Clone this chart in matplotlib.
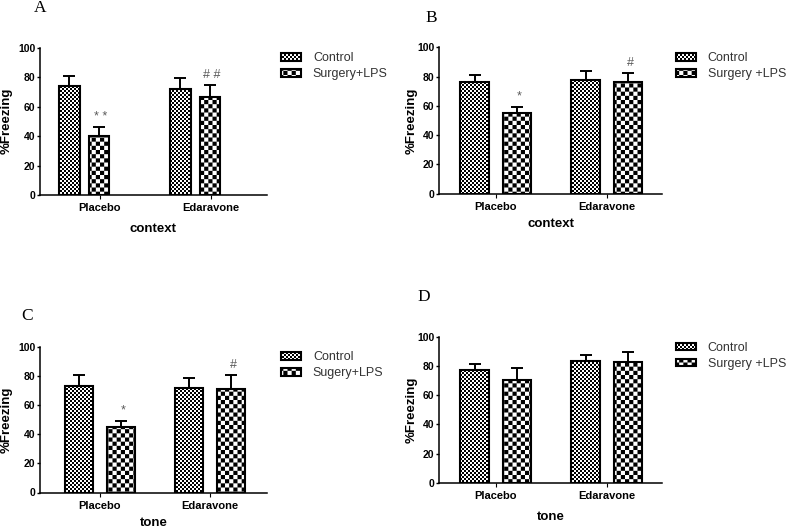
import matplotlib
matplotlib.use("Agg")
import matplotlib.pyplot as plt
import matplotlib.hatch as mhatch
from matplotlib.path import Path
import numpy as np

# ---------------- data ----------------
groups = ["Placebo", "Edaravone"]

A_control = [73.8, 72.2]
A_control_err = [7.0, 7.0]
A_surgery = [40.3, 66.6]
A_surgery_err = [5.6, 7.9]
A_marks = ["", "* *", "", "# #"]

B_control = [76.0, 77.6]
B_control_err = [5.3, 6.4]
B_surgery = [55.3, 76.3]
B_surgery_err = [4.1, 6.3]
B_marks = ["", "*", "", "#"]

C_control = [73.6, 72.2]
C_control_err = [7.3, 6.4]
C_surgery = [44.9, 71.3]
C_surgery_err = [4.6, 9.6]
C_marks = ["", "*", "", "#"]

D_control = [76.9, 83.1]
D_control_err = [4.6, 4.3]
D_surgery = [70.3, 82.4]
D_surgery_err = [8.0, 7.1]
D_marks = ["", "", "", ""]

yticks = [0, 20, 40, 60, 80, 100]


# ---------------- checkerboard hatch ----------------
class CheckerHatch(mhatch.HatchPatternBase):
    """'c' -> coarse checkerboard, 'f' -> fine checkerboard."""

    def __init__(self, hatch, density):
        if hatch.count('c'):
            self.n = 24
        elif hatch.count('f'):
            self.n = 50
        else:
            self.n = 0
        self.num_vertices = (self.n * self.n // 2) * 5 if self.n else 0

    def set_vertices_and_codes(self, vertices, codes):
        n = self.n
        s = 1.0 / n
        k = 0
        for i in range(n):
            for j in range(n):
                if (i + j) % 2 == 0:
                    x0, y0 = i * s, j * s
                    vertices[k:k + 5] = [(x0, y0), (x0 + s, y0), (x0 + s, y0 + s),
                                         (x0, y0 + s), (x0, y0)]
                    codes[k:k + 5] = [Path.MOVETO, Path.LINETO, Path.LINETO,
                                      Path.LINETO, Path.CLOSEPOLY]
                    k += 5


mhatch._hatch_types.append(CheckerHatch)

import warnings
warnings.filterwarnings("ignore")

plt.rcParams['hatch.linewidth'] = 0.0
plt.rcParams['font.family'] = ['Liberation Sans', 'DejaVu Sans']

W, H, DPI = 789, 528, 100
fig = plt.figure(figsize=(W / DPI, H / DPI), dpi=DPI)
fig.patch.set_facecolor('white')


def axes_px(left, top, right, bottom):
    return fig.add_axes([left / W, 1 - bottom / H, (right - left) / W, (bottom - top) / H])


panels = [
    dict(letter='A', letter_xy=(40, 8), rect=(40, 47.5, 267, 195), xlim=(-0.54, 1.505),
         offs=(-0.275, -0.01), width=0.186, ctrl=A_control, ctrl_err=A_control_err,
         surg=A_surgery, surg_err=A_surgery_err, marks=A_marks,
         surg_label="Surgery+LPS", xlabel="context", xlabel_y=228.7, ylabel_x=7,
         leg_xy=(281, 52.5)),
    dict(letter='B', letter_xy=(431, 17.5), rect=(439, 47.3, 662, 193.5), xlim=(-0.511, 1.498),
         offs=(-0.19, 0.19), width=0.255, ctrl=B_control, ctrl_err=B_control_err,
         surg=B_surgery, surg_err=B_surgery_err, marks=B_marks,
         surg_label="Surgery +LPS", xlabel="context", xlabel_y=224, ylabel_x=411.7,
         leg_xy=(676, 52.5)),
    dict(letter='C', letter_xy=(27.5, 316.5), rect=(40, 347.3, 267, 492.5), xlim=(-0.545, 1.518),
         offs=(-0.19, 0.19), width=0.255, ctrl=C_control, ctrl_err=C_control_err,
         surg=C_surgery, surg_err=C_surgery_err, marks=C_marks,
         surg_label="Sugery+LPS", xlabel="tone", xlabel_y=523, ylabel_x=7,
         leg_xy=(281, 351.5)),
    dict(letter='D', letter_xy=(423.5, 297), rect=(439, 336.7, 662, 482.7), xlim=(-0.511, 1.498),
         offs=(-0.19, 0.19), width=0.255, ctrl=D_control, ctrl_err=D_control_err,
         surg=D_surgery, surg_err=D_surgery_err, marks=D_marks,
         surg_label="Surgery +LPS", xlabel="tone", xlabel_y=517, ylabel_x=411.7,
         leg_xy=(676, 342)),
]

for p in panels:
    l, t, r, b = p['rect']
    ax = axes_px(l, t, r, b)
    x = np.arange(len(groups))
    w = p['width']
    xc = x + p['offs'][0]
    xs = x + p['offs'][1]
    bc = ax.bar(xc, p['ctrl'], w, facecolor='white', edgecolor='black', hatch='ff',
                linewidth=1.5, zorder=3, label="Control")
    bs = ax.bar(xs, p['surg'], w, facecolor='white', edgecolor='black', hatch='cc',
                linewidth=1.5, zorder=3, label=p['surg_label'])
    ax.errorbar(xc, p['ctrl'], yerr=[np.zeros(len(x)), p['ctrl_err']], fmt='none',
                ecolor='black', elinewidth=1.4, capsize=4.3, capthick=1.4, zorder=2)
    ax.errorbar(xs, p['surg'], yerr=[np.zeros(len(x)), p['surg_err']], fmt='none',
                ecolor='black', elinewidth=1.4, capsize=4.3, capthick=1.4, zorder=2)

    # significance marks
    xpos = [xc[0], xs[0], xc[1], xs[1]]
    tops = [p['ctrl'][0] + p['ctrl_err'][0], p['surg'][0] + p['surg_err'][0],
            p['ctrl'][1] + p['ctrl_err'][1], p['surg'][1] + p['surg_err'][1]]
    for xm, tp, m in zip(xpos, tops, p['marks']):
        if m:
            ax.text(xm + 0.02, tp + 7.0, m, ha='center', va='center', color='#5a5a5a',
                    fontsize=9)

    ax.set_xlim(*p['xlim'])
    ax.set_ylim(0, 100)
    ax.set_yticks(yticks)
    ax.set_xticks(x)
    ax.set_xticklabels(groups)
    for s in ['top', 'right']:
        ax.spines[s].set_visible(False)
    for s in ['left', 'bottom']:
        ax.spines[s].set_linewidth(1.1)
    ax.tick_params(axis='y', direction='out', length=2.5, width=1.0, pad=0.8,
                   labelsize=7.5)
    ax.tick_params(axis='x', direction='out', length=3, width=0.8, pad=3,
                   labelsize=8)
    for lab in ax.get_yticklabels() + ax.get_xticklabels():
        lab.set_fontweight('bold')

    hpx = b - t
    wpx = r - l
    ax.set_xlabel(p['xlabel'], fontsize=9.5, fontweight='bold')
    ax.xaxis.set_label_coords(0.5, -(p['xlabel_y'] - b) / hpx)
    ax.xaxis.label.set_va('center')
    ax.set_ylabel('%Freezing', fontsize=9.5, fontweight='bold')
    ax.yaxis.set_label_coords(-(l - p['ylabel_x']) / wpx, 0.5)
    ax.yaxis.label.set_va('center')

    lx, ly = p['leg_xy']
    leg = ax.legend(handles=[bc, bs], labels=["Control", p['surg_label']],
                    loc='upper left', bbox_to_anchor=(lx / W, 1 - ly / H),
                    bbox_transform=fig.transFigure, frameon=False, borderpad=0,
                    borderaxespad=0, handlelength=1.6, handleheight=0.56,
                    handletextpad=0.95, labelspacing=0.3, fontsize=9)
    for txt in leg.get_texts():
        txt.set_color('#333333')

    lxp, lyp = p['letter_xy']
    fig.text(lxp / W, 1 - lyp / H, p['letter'], ha='center', va='center',
             fontsize=12.5, family=['Liberation Serif', 'DejaVu Serif'])

fig.savefig('out.png', dpi=DPI)
